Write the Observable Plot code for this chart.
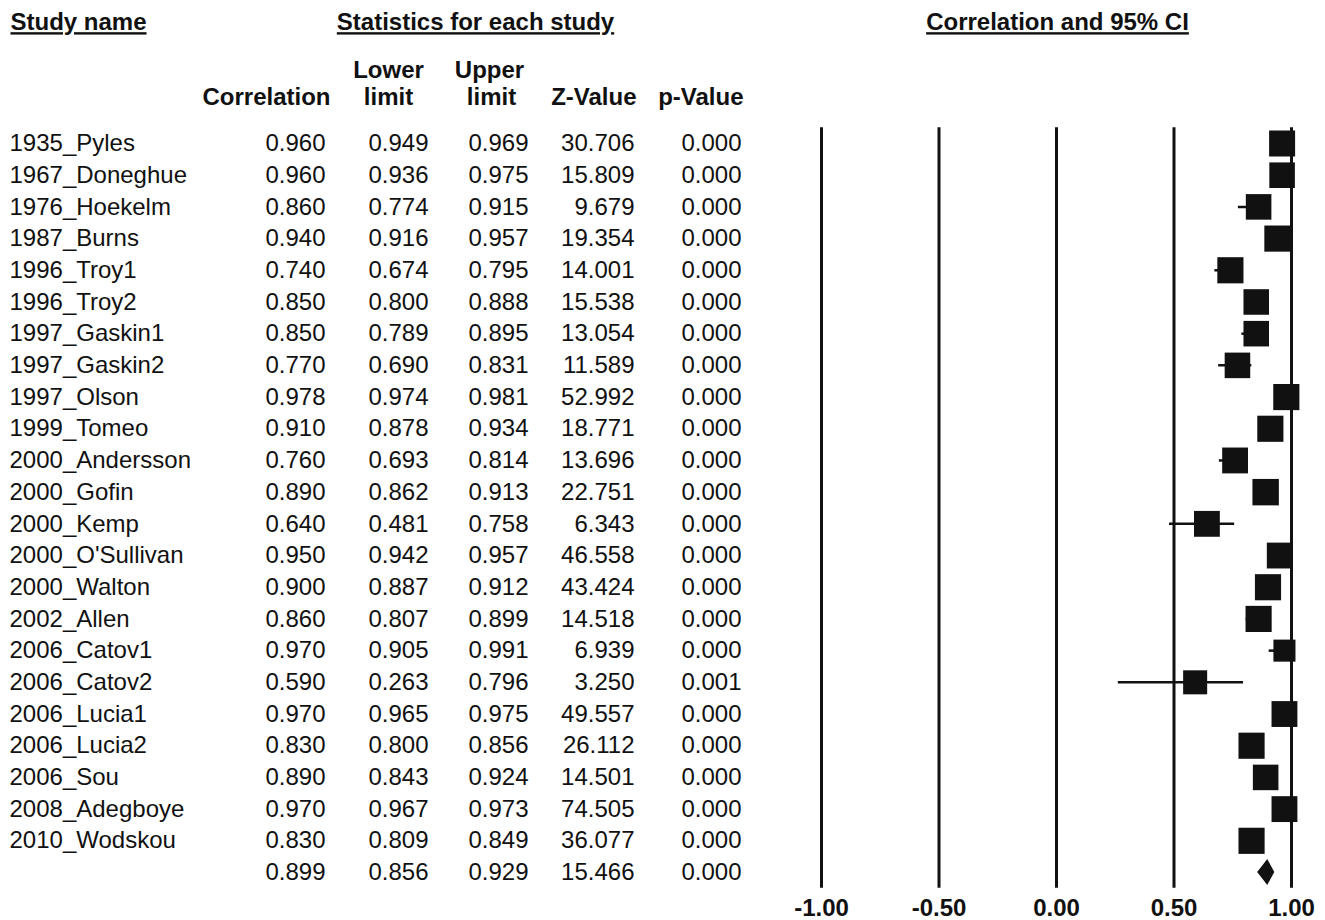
<!DOCTYPE html>
<html>
<head>
<meta charset="utf-8">
<script src="https://cdn.jsdelivr.net/npm/d3@7"></script>
<script src="https://cdn.jsdelivr.net/npm/@observablehq/plot@0.6"></script>
<style>
  html, body { margin: 0; padding: 0; background: #fff; }
  #chart svg { display: block; }
  .uline { text-decoration: underline; text-decoration-thickness: 3px; text-underline-offset: 4px; }
</style>
</head>
<body>
<div id="chart"></div>
<script>
// ---------- data ----------
const studies = ["1935_Pyles","1967_Doneghue","1976_Hoekelm","1987_Burns","1996_Troy1","1996_Troy2",
  "1997_Gaskin1","1997_Gaskin2","1997_Olson","1999_Tomeo","2000_Andersson","2000_Gofin","2000_Kemp",
  "2000_O'Sullivan","2000_Walton","2002_Allen","2006_Catov1","2006_Catov2","2006_Lucia1","2006_Lucia2",
  "2006_Sou","2008_Adegboye","2010_Wodskou"];
const correlation = [0.960,0.960,0.860,0.940,0.740,0.850,0.850,0.770,0.978,0.910,0.760,0.890,0.640,
  0.950,0.900,0.860,0.970,0.590,0.970,0.830,0.890,0.970,0.830];
const lowerLimit = [0.949,0.936,0.774,0.916,0.674,0.800,0.789,0.690,0.974,0.878,0.693,0.862,0.481,
  0.942,0.887,0.807,0.905,0.263,0.965,0.800,0.843,0.967,0.809];
const upperLimit = [0.969,0.975,0.915,0.957,0.795,0.888,0.895,0.831,0.981,0.934,0.814,0.913,0.758,
  0.957,0.912,0.899,0.991,0.796,0.975,0.856,0.924,0.973,0.849];
const zValue = [30.706,15.809,9.679,19.354,14.001,15.538,13.054,11.589,52.992,18.771,13.696,22.751,6.343,
  46.558,43.424,14.518,6.939,3.250,49.557,26.112,14.501,74.505,36.077];
const pValue = [0.000,0.000,0.000,0.000,0.000,0.000,0.000,0.000,0.000,0.000,0.000,0.000,0.000,
  0.000,0.000,0.000,0.000,0.001,0.000,0.000,0.000,0.000,0.000];
// relative weight (%)
const weights = [4.45,4.3,4.3,4.5,4.5,4.3,4.3,4.3,4.5,4.5,4.4,4.6,4.4,
  4.4,4.5,4.5,3.2,3.8,4.4,4.5,4.3,4.4,4.5];
const summaryValues = {correlation: 0.899, lower: 0.856, upper: 0.929, z: 15.466, p: 0.000};
const xTicks = [-1, -0.5, 0, 0.5, 1];
const mainHeaders = ["Study name", "Statistics for each study", "Correlation and 95% CI"];
const colHeadLine1 = ["Lower", "Upper"];
const colHeadLine2 = ["Correlation", "limit", "limit", "Z-Value", "p-Value"];

// ---------- build table ----------
const rows = studies.map((name, i) => ({
  row: i, name, r: correlation[i], lo: lowerLimit[i], hi: upperLimit[i],
  z: zValue[i], p: pValue[i], w: weights[i]
}));
const nRows = rows.length + 1;
const summaryRow = {row: rows.length, name: "", r: summaryValues.correlation, lo: summaryValues.lower,
  hi: summaryValues.upper, z: summaryValues.z, p: summaryValues.p};
const allRows = [...rows, summaryRow];
const h = 0.41; // diamond half-height in row units
const diamond = [
  {y: summaryRow.row - h, x1: summaryRow.r, x2: summaryRow.r},
  {y: summaryRow.row, x1: summaryRow.lo, x2: summaryRow.hi},
  {y: summaryRow.row + h, x1: summaryRow.r, x2: summaryRow.r}
];

const f3 = d => d.toFixed(3);
const ink = "#111";
const FS = 24;
const ML = 821, MR = 34, MT = 127.15, MB = 32.15;

const colText = (accessor, dx, anchor = "end") =>
  Plot.text(allRows, {y: "row", text: accessor, frameAnchor: "left", dx, textAnchor: anchor, fill: ink, fontSize: FS});
const header = (label, px, py, anchor) =>
  Plot.text([label], {text: d => d, frameAnchor: "top-left", lineAnchor: "middle", dx: px - ML, dy: py - MT,
    textAnchor: anchor, fontWeight: "bold", fontSize: FS, fill: ink});

const chart = Plot.plot({
  width: 1325,
  height: 920,
  marginLeft: ML,
  marginRight: MR,
  marginTop: MT,
  marginBottom: MB,
  style: {fontFamily: "'Liberation Sans', Arial, Helvetica, sans-serif", fontSize: FS + "px", background: "#fff", color: ink},
  x: {domain: [-1, 1], axis: null},
  y: {domain: [-0.5, nRows - 0.5], reverse: true, axis: null},
  r: {type: "sqrt", domain: [0, 4.45], range: [0, 14.67]},
  marks: [
    Plot.ruleX(xTicks, {stroke: ink, strokeWidth: 3}),
    Plot.axisX({ticks: xTicks, tickFormat: d => d.toFixed(2), tickSize: 0, tickPadding: 11,
      fontSize: FS, fontWeight: "bold", fill: ink, label: null}),
    Plot.ruleY(rows, {y: "row", x1: "lo", x2: "hi", stroke: ink, strokeWidth: 2.5}),
    Plot.dot(rows, {x: "r", y: "row", r: "w", symbol: "square", fill: ink, stroke: "none"}),
    Plot.areaX(diamond, {y: "y", x1: "x1", x2: "x2", fill: ink}),
    // table columns
    colText("name", 9 - ML, "start"),
    colText(d => f3(d.r), 325 - ML),
    colText(d => f3(d.lo), 428 - ML),
    colText(d => f3(d.hi), 528 - ML),
    colText(d => f3(d.z), 634 - ML),
    colText(d => f3(d.p), 741 - ML),
    // headers
    header(mainHeaders[0], 10, 22, "start"),
    header(mainHeaders[1], 475, 22, "middle"),
    header(mainHeaders[2], 1057, 22, "middle"),
    header(colHeadLine1[0], 388, 70, "middle"),
    header(colHeadLine1[1], 489, 70, "middle"),
    header(colHeadLine2[0], 330, 97, "end"),
    header(colHeadLine2[1], 388, 97, "middle"),
    header(colHeadLine2[2], 491, 97, "middle"),
    header(colHeadLine2[3], 636, 97, "end"),
    header(colHeadLine2[4], 743, 97, "end")
  ]
});

document.getElementById("chart").appendChild(chart);
// underline the three main headers
d3.select(chart).selectAll("text").filter(function () {
  return mainHeaders.includes(this.textContent);
}).attr("class", "uline");
</script>
</body>
</html>
